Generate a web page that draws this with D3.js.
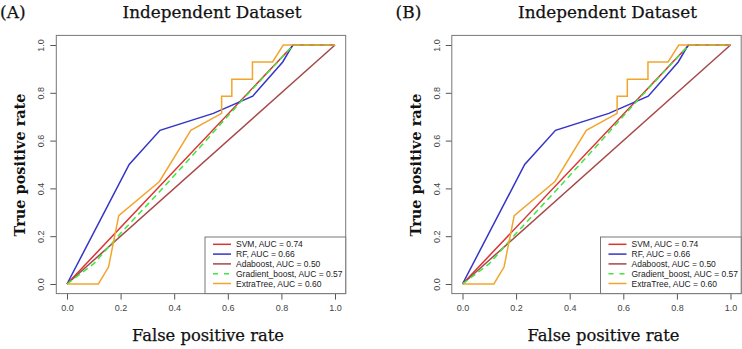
<!DOCTYPE html>
<html><head><meta charset="utf-8">
<script src="https://cdn.jsdelivr.net/npm/d3@7"></script>
<style>body{margin:0;background:#fff}svg{display:block}</style>
</head><body>
<svg id="chart" width="742" height="349"></svg>
<script>
// ---- data ----
const panels = ["(A)", "(B)"];
const chartTitle = "Independent Dataset";
const xLabel = "False positive rate";
const yLabel = "True positive rate";
const tickValues = [0, 0.2, 0.4, 0.6, 0.8, 1.0];
const tickLabels = ["0.0", "0.2", "0.4", "0.6", "0.8", "1.0"];

const seriesNames = ["SVM, AUC = 0.74", "RF, AUC = 0.66", "Adaboost, AUC = 0.50", "Gradient_boost, AUC = 0.57", "ExtraTree, AUC = 0.60"];

const fprSVM = [0, 0.845, 1];
const tprSVM = [0, 1, 1];
const fprRF = [0, 0.232, 0.347, 0.546, 0.693, 0.805, 0.842, 1];
const tprRF = [0, 0.500, 0.643, 0.714, 0.786, 0.929, 1, 1];
const fprAda = [0, 1];
const tprAda = [0, 1];
const fprGB = [0, 0.10, 0.20, 0.35, 0.50, 0.65, 0.845, 1];
const tprGB = [0, 0.085, 0.212, 0.392, 0.577, 0.765, 1, 1];
const fprET = [0, 0.117, 0.155, 0.193, 0.345, 0.462, 0.577, 0.577, 0.615, 0.615, 0.692, 0.692, 0.767, 0.807, 1];
const tprET = [0, 0, 0.071, 0.286, 0.429, 0.643, 0.714, 0.786, 0.786, 0.857, 0.857, 0.929, 0.929, 1, 1];

const seriesFpr = [fprSVM, fprRF, fprAda, fprGB, fprET];
const seriesTpr = [tprSVM, tprRF, tprAda, tprGB, tprET];

// ---- styles ----
const colors = ["#dd3333", "#3434c8", "#a54848", "#3ee83e", "#f2a52c"];
const dashes = [null, null, null, "6,4", null];

const svg = d3.select("#chart");

function fitText(sel, target) {
  const w = sel.node().getComputedTextLength();
  const fs = parseFloat(sel.attr("font-size"));
  sel.attr("font-size", fs * target / w);
}

function drawPanel(dx, letter) {
  const g = svg.append("g").attr("transform", `translate(${dx},0)`);
  const x = d3.scaleLinear().domain([0, 1]).range([67, 335]);
  const y = d3.scaleLinear().domain([0, 1]).range([284, 45]);
  const boxL = 56.3, boxR = 345.7, boxT = 35.4, boxB = 293.6;

  // panel letter
  g.append("text").attr("x", 0).attr("y", 18)
    .attr("font-family", "'DejaVu Serif', serif").attr("font-size", 17)
    .attr("fill", "#111").attr("stroke", "#111").attr("stroke-width", 0.25).text(letter);
  // title
  const t = g.append("text").attr("x", 212).attr("y", 18).attr("text-anchor", "middle")
    .attr("font-family", "'DejaVu Serif', serif").attr("font-size", 16)
    .attr("fill", "#111").attr("stroke", "#111").attr("stroke-width", 0.25).text(chartTitle);
  fitText(t, 179);
  // x label
  const xl = g.append("text").attr("x", 208).attr("y", 341).attr("text-anchor", "middle")
    .attr("font-family", "'DejaVu Serif', serif").attr("font-size", 16)
    .attr("fill", "#111").attr("stroke", "#111").attr("stroke-width", 0.25).text(xLabel);
  fitText(xl, 152);
  // y label
  const yl = g.append("text").attr("transform", "translate(25,165) rotate(-90)")
    .attr("text-anchor", "middle")
    .attr("font-family", "'DejaVu Serif', serif").attr("font-size", 17).attr("font-weight", "bold")
    .attr("fill", "#111").text(yLabel);
  fitText(yl, 143);

  // axes
  const xAxis = d3.axisBottom(x).tickValues(tickValues).tickFormat((d, i) => tickLabels[i]).tickSize(6).tickPadding(5);
  const gx = g.append("g").attr("transform", `translate(0,${boxB})`).call(xAxis);
  gx.select(".domain").remove();
  gx.selectAll("line").attr("stroke", "#555");
  gx.selectAll("text").attr("font-family", "'Liberation Sans', Arial, sans-serif").attr("font-size", 9).attr("fill", "#444");

  const yAxis = d3.axisLeft(y).tickValues(tickValues).tickFormat((d, i) => tickLabels[i]).tickSize(6).tickPadding(5);
  const gy = g.append("g").attr("transform", `translate(${boxL},0)`).call(yAxis);
  gy.select(".domain").remove();
  gy.selectAll("line").attr("stroke", "#555");
  gy.selectAll("text").attr("font-family", "'Liberation Sans', Arial, sans-serif").attr("font-size", 9).attr("fill", "#444")
    .attr("text-anchor", "middle").attr("dy", null)
    .attr("transform", "translate(-15,0) rotate(-90)")
    .attr("x", 0).attr("y", 0).attr("dominant-baseline", "central");

  // box
  g.append("rect").attr("x", boxL).attr("y", boxT).attr("width", boxR - boxL).attr("height", boxB - boxT)
    .attr("fill", "none").attr("stroke", "#777").attr("stroke-width", 1);

  // curves
  const line = d3.line().x(d => x(d[0])).y(d => y(d[1]));
  seriesFpr.forEach((fp, i) => {
    const pts = fp.map((v, j) => [v, seriesTpr[i][j]]);
    g.append("path").attr("d", line(pts)).attr("fill", "none")
      .attr("stroke", colors[i]).attr("stroke-width", 1.5)
      .attr("stroke-dasharray", dashes[i]).attr("stroke-linejoin", "miter");
  });

  // legend
  const lgL = 205, lgT = 237;
  g.append("rect").attr("x", lgL).attr("y", lgT).attr("width", boxR - lgL).attr("height", boxB - lgT)
    .attr("fill", "#fff").attr("stroke", "#777").attr("stroke-width", 1);
  seriesNames.forEach((name, i) => {
    const yy = 244.3 + i * 9.8;
    g.append("line").attr("x1", 213).attr("x2", 231).attr("y1", yy).attr("y2", yy)
      .attr("stroke", colors[i]).attr("stroke-width", 1.5).attr("stroke-dasharray", dashes[i] ? "5,6" : null);
    g.append("text").attr("x", 236).attr("y", yy).attr("dominant-baseline", "central")
      .attr("font-family", "'Liberation Sans', Arial, sans-serif").attr("font-size", 8.5)
      .attr("fill", "#222").text(name);
  });
}

drawPanel(0, panels[0]);
drawPanel(395.5, panels[1]);
</script>
</body></html>
